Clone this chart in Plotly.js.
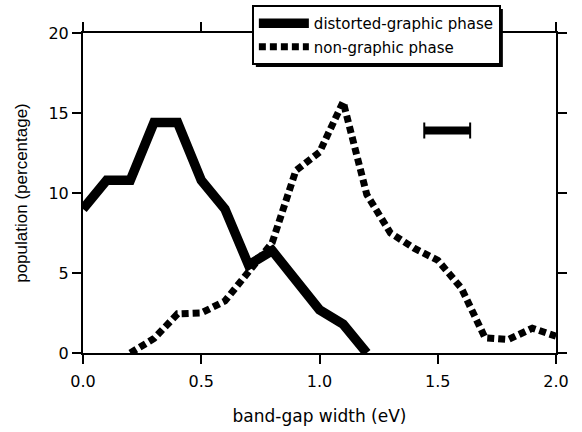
<!DOCTYPE html>
<html>
<head>
<meta charset="utf-8">
<script src="https://cdn.plot.ly/plotly-3.0.1.min.js"></script>
<style>html,body{margin:0;padding:0;background:#fff;}#chart{width:582px;height:432px;}</style>
</head>
<body>
<div id="chart"></div>
<script>
// distorted-graphic phase (solid)
const distortedX = [0.0, 0.1, 0.2, 0.3, 0.4, 0.5, 0.6, 0.7, 0.8, 0.9, 1.0, 1.1, 1.2];
const distortedY = [9.0, 10.8, 10.8, 14.4, 14.4, 10.8, 9.0, 5.5, 6.4, 4.5, 2.7, 1.8, 0.0];
// non-graphic phase (dotted)
const nonGraphicX = [0.2, 0.3, 0.4, 0.5, 0.6, 0.7, 0.8, 0.9, 1.0, 1.1, 1.2, 1.3, 1.4, 1.5, 1.6, 1.7, 1.8, 1.9, 2.0];
const nonGraphicY = [0.0, 0.9, 2.45, 2.5, 3.25, 5.0, 6.9, 11.4, 12.55, 15.7, 9.9, 7.5, 6.55, 5.8, 4.05, 0.95, 0.85, 1.55, 1.05];
// horizontal scale bar
const barX = [1.443, 1.637];
const barY = [13.9, 13.9];

const xTicks = [0.0, 0.5, 1.0, 1.5, 2.0];
const xTickText = ['0.0', '0.5', '1.0', '1.5', '2.0'];
const yTicks = [0, 5, 10, 15, 20];
const yTickText = ['0', '5', '10', '15', '20'];

const WIDE = '"DejaVu Sans", Arial, sans-serif';
const NARROW = 'Arial, "Liberation Sans", sans-serif';

const traces = [
  {
    x: distortedX, y: distortedY, type: 'scatter', mode: 'lines',
    name: 'distorted-graphic phase', legendgroup: 'a',
    line: {color: '#000', width: 9.5}
  },
  {
    x: nonGraphicX, y: nonGraphicY, type: 'scatter', mode: 'lines',
    name: 'non-graphic phase', legendgroup: 'b',
    line: {color: '#000', width: 7, dash: '7px,4px'}
  },
  {
    x: barX, y: barY, type: 'scatter', mode: 'lines', showlegend: false,
    line: {color: '#000', width: 8},
    error_x: {type: 'data', array: [0, 0], width: 8, thickness: 2, color: '#000'}
  }
];

const axisCommon = {
  showline: true, linecolor: '#000', linewidth: 2,
  mirror: 'ticks', ticks: 'outside', ticklen: 9, tickwidth: 2, tickcolor: '#000',
  showgrid: false, zeroline: false, automargin: false,
  tickfont: {family: WIDE, size: 16, color: '#000'}
};

const layout = {
  width: 582, height: 432,
  margin: {l: 83, r: 26, t: 33, b: 79, autoexpand: false},
  paper_bgcolor: '#fff', plot_bgcolor: '#fff',
  font: {family: WIDE, color: '#000'},
  showlegend: true,
  xaxis: Object.assign({}, axisCommon, {
    range: [0, 2], tickmode: 'array', tickvals: xTicks, ticktext: xTickText,
    ticklabelstandoff: 4,
    title: {text: 'band-gap width (eV)', font: {family: WIDE, size: 17, color: '#000'}, standoff: 20}
  }),
  yaxis: Object.assign({}, axisCommon, {
    range: [0, 20], tickmode: 'array', tickvals: yTicks, ticktext: yTickText,
    title: {text: 'population (percentage)', font: {family: NARROW, size: 17, color: '#000'}, standoff: 16}
  }),
  legend: {
    x: 0.357, y: 1.0875, xanchor: 'left', yanchor: 'top',
    bgcolor: '#fff', bordercolor: '#000', borderwidth: 2,
    font: {family: WIDE, size: 15, color: '#000'},
    traceorder: 'grouped', tracegroupgap: 1, itemwidth: 50,
    entrywidth: 255, entrywidthmode: 'pixels'
  }
};

Plotly.newPlot('chart', traces, layout, {displayModeBar: false, staticPlot: true}).then(function (gd) {
  const bg = gd.querySelector('.legend .bg');
  if (!bg) return;
  const r = bg.getBoundingClientRect();
  const c = gd.getBoundingClientRect();
  const sz = gd._fullLayout._size;
  const toPX = function (px) { return (px - sz.l) / sz.w; };
  const toPY = function (py) { return 1 - (py - sz.t) / sz.h; };
  const left = r.left - c.left, top = r.top - c.top, right = r.right - c.left, bottom = r.bottom - c.top;
  return Plotly.relayout(gd, {
    shapes: [{
      type: 'rect', xref: 'paper', yref: 'paper', layer: 'above',
      x0: toPX(left + 3), x1: toPX(right + 3), y0: toPY(bottom + 3), y1: toPY(top + 3),
      fillcolor: '#000', line: {width: 0}
    }]
  });
});
</script>
</body>
</html>
